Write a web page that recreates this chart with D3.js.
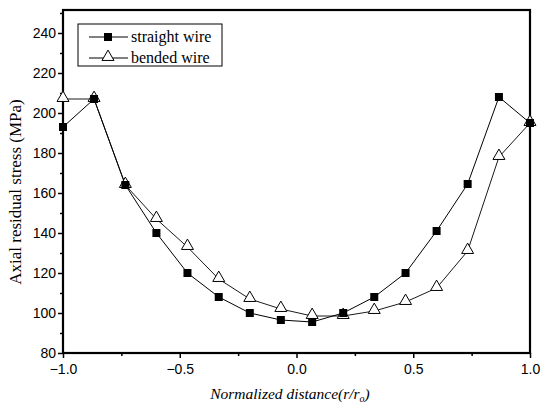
<!DOCTYPE html>
<html lang="en">
<head>
  <meta charset="utf-8">
  <script src="https://d3js.org/d3.v7.min.js"></script>
  <style>
    body { margin: 0; background: #fff; }
    .tick text { font-family: "Liberation Sans", Arial, sans-serif; font-size: 14px; fill: #000; }
  </style>
</head>
<body>
  <script type="text/javascript">
    // data
    var positions = [-1.0, -0.867, -0.733, -0.6, -0.467, -0.333, -0.2, -0.067,
                     0.067, 0.2, 0.333, 0.467, 0.6, 0.733, 0.867, 1.0];
    var straightWire = [193, 207, 164, 140, 120, 108, 100, 96.5,
                        95.5, 100, 108, 120, 141, 164.5, 208, 195];
    var bendedWire = [207, 207, 164, 147, 133, 117, 107, 102,
                      98.5, 98.5, 101, 105.5, 112.5, 131, 178, 195];
    var xTicks = [-1.0, -0.5, 0.0, 0.5, 1.0];
    var yTicks = [80, 100, 120, 140, 160, 180, 200, 220, 240];
    var seriesNames = ["straight wire", "bended wire"];

    var dim = {
      "width": 541,
      "height": 405,
      "left": 63,
      "right": 530,
      "top": 10,
      "bottom": 353
    };

    var svg = d3.select("body")
      .append("svg")
      .attr("width", dim.width)
      .attr("height", dim.height);

    var xScale = d3.scaleLinear()
      .domain([-1, 1])
      .range([dim.left, dim.right]);

    var yScale = d3.scaleLinear()
      .domain([80, 251.5])
      .range([dim.bottom, dim.top]);

    // minor ticks
    var xMinor = d3.axisBottom(xScale)
      .tickValues([-0.75, -0.25, 0.25, 0.75])
      .tickSize(3)
      .tickFormat("");
    svg.append("g")
      .attr("transform", "translate(0," + dim.bottom + ")")
      .call(xMinor)
      .call(g => g.select(".domain").remove())
      .selectAll("line").attr("stroke-width", 1.5);

    var yMinor = d3.axisLeft(yScale)
      .tickValues([90, 110, 130, 150, 170, 190, 210, 230, 250])
      .tickSize(3)
      .tickFormat("");
    svg.append("g")
      .attr("transform", "translate(" + dim.left + ",0)")
      .call(yMinor)
      .call(g => g.select(".domain").remove())
      .selectAll("line").attr("stroke-width", 1.5);

    // major axes
    var xAxis = d3.axisBottom(xScale)
      .tickValues(xTicks)
      .tickSize(5)
      .tickPadding(6)
      .tickFormat(d3.format(".1f"));
    svg.append("g")
      .attr("transform", "translate(0," + dim.bottom + ")")
      .call(xAxis)
      .call(g => g.select(".domain").remove())
      .selectAll("line").attr("stroke-width", 1.5);

    var yAxis = d3.axisLeft(yScale)
      .tickValues(yTicks)
      .tickSize(5)
      .tickPadding(2);
    svg.append("g")
      .attr("transform", "translate(" + dim.left + ",0)")
      .call(yAxis)
      .call(g => g.select(".domain").remove())
      .selectAll("line").attr("stroke-width", 1.5);

    // frame
    svg.append("rect")
      .attr("x", dim.left)
      .attr("y", dim.top)
      .attr("width", dim.right - dim.left)
      .attr("height", dim.bottom - dim.top)
      .attr("fill", "none")
      .attr("stroke", "#000")
      .attr("stroke-width", 2.2);

    var line = d3.line()
      .x(d => xScale(d[0]))
      .y(d => yScale(d[1]));

    var straightPts = positions.map((p, i) => [p, straightWire[i]]);
    var bendedPts = positions.map((p, i) => [p, bendedWire[i]]);

    svg.append("path")
      .attr("d", line(straightPts))
      .attr("fill", "none")
      .attr("stroke", "#000")
      .attr("stroke-width", 1);

    svg.append("path")
      .attr("d", line(bendedPts))
      .attr("fill", "none")
      .attr("stroke", "#000")
      .attr("stroke-width", 0.9);

    var triangle = d3.symbol().type(d3.symbolTriangle).size(62);

    // bended wire markers
    svg.selectAll(".tri")
      .data(bendedPts)
      .enter()
      .append("path")
      .attr("class", "tri")
      .attr("d", triangle)
      .attr("transform", d => "translate(" + xScale(d[0]) + "," + (yScale(d[1]) - 1) + ")")
      .attr("fill", "#fff")
      .attr("stroke", "#000")
      .attr("stroke-width", 1);

    // straight wire markers
    svg.selectAll(".sq")
      .data(straightPts)
      .enter()
      .append("rect")
      .attr("class", "sq")
      .attr("x", d => xScale(d[0]) - 4)
      .attr("y", d => yScale(d[1]) - 4)
      .attr("width", 8)
      .attr("height", 8)
      .attr("fill", "#000");

    // legend
    var legend = svg.append("g");
    legend.append("rect")
      .attr("x", 78)
      .attr("y", 24)
      .attr("width", 144)
      .attr("height", 42)
      .attr("fill", "#fff")
      .attr("stroke", "#000")
      .attr("stroke-width", 1);

    seriesNames.forEach(function(name, i) {
      var y = 37 + i * 21;
      legend.append("line")
        .attr("x1", 89).attr("x2", 128)
        .attr("y1", y).attr("y2", y)
        .attr("stroke", "#000")
        .attr("stroke-width", 1);
      if (i === 0) {
        legend.append("rect")
          .attr("x", 104).attr("y", y - 4)
          .attr("width", 8).attr("height", 8)
          .attr("fill", "#000");
      } else {
        legend.append("path")
          .attr("d", triangle)
          .attr("transform", "translate(108," + (y - 1) + ")")
          .attr("fill", "#fff")
          .attr("stroke", "#000");
      }
      legend.append("text")
        .attr("x", 131)
        .attr("y", y + 5)
        .style("font-family", "'Liberation Serif', 'Times New Roman', serif")
        .style("font-size", "16px")
        .text(name);
    });

    // axis titles
    svg.append("text")
      .attr("transform", "translate(21,192) rotate(-90)")
      .attr("text-anchor", "middle")
      .style("font-family", "'Liberation Serif', 'Times New Roman', serif")
      .style("font-size", "17px")
      .text("Axial residual stress (MPa)");

    var xTitle = svg.append("text")
      .attr("x", 290)
      .attr("y", 399)
      .attr("text-anchor", "middle")
      .style("font-family", "'Liberation Serif', 'Times New Roman', serif")
      .style("font-size", "15.5px")
      .style("font-style", "italic")
      .text("Normalized distance(r/r");
    xTitle.append("tspan")
      .attr("dy", 3)
      .style("font-size", "10px")
      .text("o");
    xTitle.append("tspan")
      .attr("dy", -3)
      .text(")");
  </script>
</body>
</html>
